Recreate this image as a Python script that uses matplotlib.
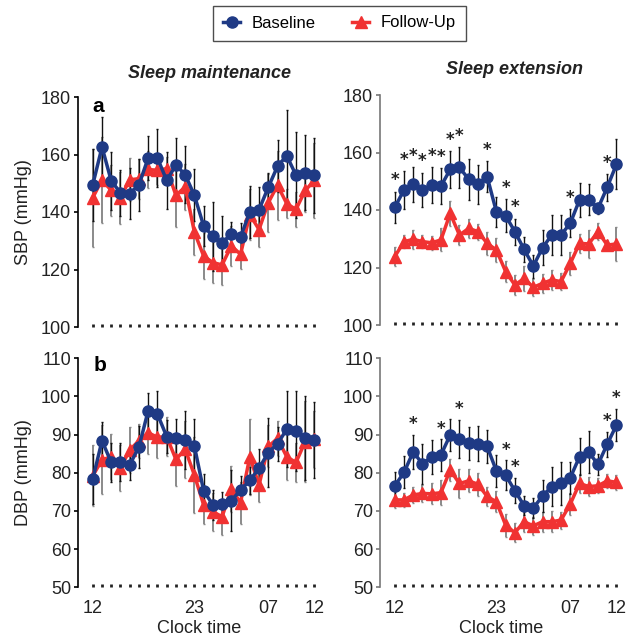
import numpy as np
import matplotlib.pyplot as plt
from matplotlib.lines import Line2D

plt.rcParams["font.family"] = ["Liberation Sans", "DejaVu Sans"]

# x positions: hourly from 12:00 to 12:00 next day
hours = np.arange(25)
tick_pos = [0, 11, 19, 24]
tick_lab = ["12", "23", "07", "12"]

# --- SBP, sleep maintenance ---
sbp_m_base = [149.5, 162.6, 150.8, 146.7, 146.4, 149.5, 158.8, 158.8, 151.0, 156.3, 153.0, 145.8, 135.2,
              131.5, 129.2, 132.5, 131.3, 140.0, 140.8, 148.6, 155.9, 159.6, 152.8, 153.7, 152.8]
sbp_m_base_err = [12.5, 10.5, 10, 8, 9, 9, 7.5, 10, 10, 9.5, 10, 9, 7, 12, 9.5, 4, 5, 9, 8, 5, 9, 16, 15, 13, 13]
sbp_m_fu = [145.0, 151.2, 147.5, 145.0, 151.2, 151.6, 154.8, 154.5, 155.1, 145.8, 148.7, 133.0, 124.7,
            122.4, 121.6, 128.2, 125.3, 139.1, 133.9, 143.2, 149.3, 142.9, 140.9, 147.5, 151.0]
sbp_m_fu_err = [17, 15, 9, 9, 7.5, 7, 6.5, 5, 4, 11, 8, 8, 8, 7, 7, 7, 5, 9, 6, 10, 12, 5, 6, 7.5, 13]

# --- SBP, sleep extension ---
sbp_e_base = [140.9, 147.0, 148.9, 147.0, 148.6, 148.3, 154.1, 154.8, 150.7, 149.0, 151.6, 139.4, 138.0,
              132.5, 126.3, 120.5, 126.9, 131.3, 131.3, 135.4, 143.5, 143.5, 140.6, 147.9, 155.9]
sbp_e_base_err = [5.5, 6.5, 6, 6, 6.3, 6.2, 6.3, 7, 7.2, 6.8, 5.4, 5.2, 5.8, 4.5, 4.3, 4, 6.2, 7, 7, 4.8,
                  5.8, 5.4, 1.9, 4.6, 8.7]
sbp_e_fu = [123.8, 129.0, 129.8, 129.0, 128.6, 129.6, 138.8, 131.3, 133.6, 132.5, 128.4, 126.1, 118.6,
            113.9, 116.2, 113.1, 114.5, 115.7, 115.1, 121.4, 128.4, 128.2, 132.5, 127.8, 128.2]
sbp_e_fu_err = [3.2, 2.3, 3.2, 2.3, 2.4, 4, 4.2, 3.5, 3.3, 2.8, 4, 4.3, 3.5, 3.5, 4.3, 3, 3.2, 3.6, 3,
                3.9, 3.4, 4.8, 2.9, 1.7, 5.8]
sbp_e_sig = [0, 1, 2, 3, 4, 5, 6, 7, 10, 12, 13, 19, 23]

# --- DBP, sleep maintenance ---
dbp_m_base = [78.4, 88.4, 82.7, 82.9, 82.1, 86.8, 96.3, 95.4, 89.5, 89.0, 88.6, 87.0, 75.3, 71.6, 71.8,
              72.7, 75.5, 78.0, 81.2, 85.3, 87.6, 91.4, 91.0, 89.2, 88.6]
dbp_m_base_err = [6.5, 5, 5, 5, 4, 5.5, 4.7, 6, 4.4, 5, 7.5, 7, 4.5, 4, 3.3, 8, 3.7, 3.5, 5, 9, 4.5, 10,
                  10.5, 11, 10]
dbp_m_fu = [79.2, 83.4, 84.2, 81.2, 86.0, 88.4, 90.5, 89.3, 89.5, 83.5, 86.2, 79.4, 71.6, 69.8, 68.5,
            75.7, 72.2, 84.2, 76.8, 86.9, 89.0, 84.2, 82.7, 88.2, 88.8]
dbp_m_fu_err = [8, 9, 6, 6, 6, 4.5, 5.5, 5.5, 5, 7, 7.5, 10, 5, 5, 4.7, 6, 5.5, 10, 4.5, 5.5, 4.5, 6, 5,
                10.5, 7.5]

# --- DBP, sleep extension ---
dbp_e_base = [76.6, 80.1, 85.5, 82.3, 84.2, 84.7, 89.9, 88.9, 87.7, 87.6, 86.9, 80.5, 79.4, 75.3, 71.4,
              70.8, 73.9, 76.4, 77.2, 78.7, 84.2, 85.4, 82.2, 87.5, 92.5]
dbp_e_base_err = [3.5, 4.2, 4.4, 5.2, 4.4, 4.1, 4.2, 4.9, 4.4, 4.6, 4.4, 4.1, 3.9, 3.3, 2.4, 2.7, 4.1,
                  5.2, 5.7, 4.2, 4.8, 5.5, 2.8, 3.3, 4.2]
dbp_e_fu = [72.9, 72.9, 74.2, 74.6, 74.5, 74.8, 80.7, 77.2, 77.9, 77.0, 73.8, 72.4, 66.3, 64.3, 67.2,
            66.1, 67.2, 67.2, 67.6, 71.8, 77.2, 76.4, 76.6, 77.9, 77.5]
dbp_e_fu_err = [2.2, 1.9, 2.2, 2.2, 2.8, 3.3, 2.8, 3.7, 3, 3, 2.6, 2.8, 3, 2.5, 2.6, 2.4, 2.6, 2.7, 2.2,
                2.8, 2.6, 2.6, 2, 1.9, 2]
dbp_e_sig = [2, 5, 7, 12, 13, 23, 24]

BLUE = "#1f3a85"
RED = "#f03232"

fig = plt.figure(figsize=(6.35, 6.38), dpi=100)

W = 242 / 635
ax_a = fig.add_axes([78 / 635, 311 / 638, W, 230 / 638])
ax_c = fig.add_axes([380 / 635, 313 / 638, W, 230 / 638])
ax_b = fig.add_axes([78 / 635, 50.7 / 638, W, 229 / 638])
ax_d = fig.add_axes([380 / 635, 50.7 / 638, W, 229 / 638])


def draw(ax, base, base_err, fu, fu_err, ylim, yticks, spine_col, sig=None, star_off=0):
    ax.errorbar(hours, fu, yerr=fu_err, fmt="none", ecolor="#8a8a8a", elinewidth=1.4,
                capsize=1, capthick=1, zorder=1)
    ax.errorbar(hours, base, yerr=base_err, fmt="none", ecolor="#111111", elinewidth=1.0,
                capsize=1, capthick=1, zorder=1)
    ax.plot(hours, fu, color=RED, lw=2.5, marker="^", ms=8, zorder=3)
    ax.plot(hours, base, color=BLUE, lw=2.5, marker="o", ms=8, zorder=4)
    if sig:
        for i in sig:
            ax.text(i, base[i] + base_err[i] + star_off, "*", ha="center", va="center",
                    fontsize=12, fontweight="bold", color="#222222", zorder=5,
                    family="DejaVu Sans")
    ax.set_xlim(-1.6, 24.6)
    ax.set_ylim(*ylim)
    ax.set_yticks(yticks)
    for s in ["top", "right", "bottom"]:
        ax.spines[s].set_visible(False)
    ax.spines["left"].set_color(spine_col)
    ax.spines["left"].set_linewidth(1.2)
    ax.tick_params(axis="y", direction="out", length=3, width=1.2, color=spine_col,
                   labelsize=13, labelcolor="#222222", pad=2)
    ax.set_xticks(hours, minor=True)
    ax.set_xticks(tick_pos)
    ax.tick_params(axis="x", which="both", direction="in", length=2.5, width=2,
                   color="#222222", labelsize=13, labelcolor="#222222", pad=9)


draw(ax_a, sbp_m_base, sbp_m_base_err, sbp_m_fu, sbp_m_fu_err, (100, 180), range(100, 181, 20), "black")
draw(ax_c, sbp_e_base, sbp_e_base_err, sbp_e_fu, sbp_e_fu_err, (100, 180), range(100, 181, 20), "#777777",
     sig=sbp_e_sig, star_off=4)
draw(ax_b, dbp_m_base, dbp_m_base_err, dbp_m_fu, dbp_m_fu_err, (50, 110), range(50, 111, 10), "black")
draw(ax_d, dbp_e_base, dbp_e_base_err, dbp_e_fu, dbp_e_fu_err, (50, 110), range(50, 111, 10), "#777777",
     sig=dbp_e_sig, star_off=2.8)

for ax in [ax_a, ax_c]:
    ax.set_xticklabels([])
for ax in [ax_b, ax_d]:
    ax.set_xticklabels(tick_lab)
    ax.set_xlabel("Clock time", fontsize=13, color="#222222", labelpad=2)

ax_a.set_ylabel("SBP (mmHg)", fontsize=13, color="#222222", labelpad=6)
ax_b.set_ylabel("DBP (mmHg)", fontsize=13, color="#222222", labelpad=6)

ax_a.text(0.06, 0.96, "a", transform=ax_a.transAxes, fontsize=15, fontweight="bold", va="center")
ax_b.text(0.065, 0.97, "b", transform=ax_b.transAxes, fontsize=15, fontweight="bold", va="center")

fig.text(0.33, 1 - 73 / 638, "Sleep maintenance", ha="center", va="center", fontsize=13,
         fontweight="bold", fontstyle="italic", color="#222222")
fig.text(0.81, 1 - 70 / 638, "Sleep extension", ha="center", va="center", fontsize=13,
         fontweight="bold", fontstyle="italic", color="#222222")

handles = [Line2D([], [], color=BLUE, lw=2.5, marker="o", ms=8),
           Line2D([], [], color=RED, lw=2.5, marker="^", ms=8)]
leg = fig.legend(handles, ["Baseline", "Follow-Up"], loc="center", bbox_to_anchor=(0.535, 1 - 23 / 638),
                 ncol=2, fontsize=12, frameon=True, fancybox=False, handlelength=1.0,
                 handletextpad=0.7, columnspacing=2.2, borderpad=0.6)
leg.get_frame().set_edgecolor("#222222")
leg.get_frame().set_linewidth(1.0)

plt.savefig("out.png", dpi=100)
plt.close()
